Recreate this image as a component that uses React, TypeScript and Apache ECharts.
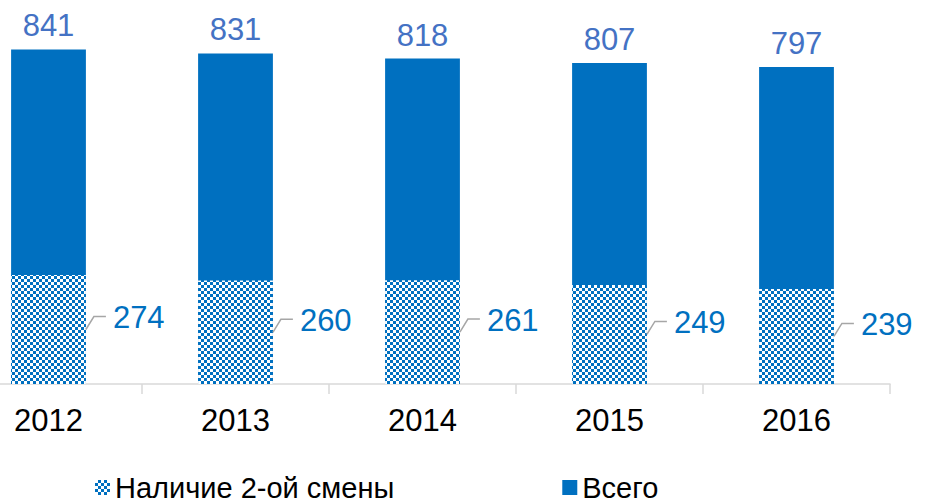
import React, { useEffect, useRef } from "react";
import * as echarts from "echarts";

const years = ["2012", "2013", "2014", "2015", "2016"];
const totalValues = [841, 831, 818, 807, 797];
const secondShiftValues = [274, 260, 261, 249, 239];
const seriesNames = ["Наличие 2-ой смены", "Всего"];

const BLUE = "#0070C0";

function makePattern(): string {
  const c = document.createElement("canvas");
  c.width = 6;
  c.height = 6;
  const ctx = c.getContext("2d")!;
  ctx.fillStyle = BLUE;
  ctx.fillRect(0, 0, 6, 6);
  ctx.fillStyle = "#ffffff";
  ctx.fillRect(0, 0, 3, 3);
  ctx.fillRect(3, 3, 3, 3);
  return c.toDataURL();
}

const SHIFT = 45;

export default function App() {
  const ref = useRef<HTMLDivElement>(null);
  useEffect(() => {
    if (!ref.current) return;
    const chart = echarts.init(ref.current, undefined, { renderer: "svg" });
    const pattern = { image: makePattern(), repeat: "repeat" } as any;
    const font = "Arial, 'Liberation Sans', sans-serif";
    chart.setOption({
      animation: false,
      textStyle: { fontFamily: font },
      grid: { left: 0, right: 44, top: 26, bottom: 118, containLabel: false },
      legend: {
        data: seriesNames,
        top: 473,
        left: 95 + SHIFT,
        padding: 0,
        itemWidth: 15,
        itemHeight: 15,
        itemGap: 168,
        icon: "rect",
        textStyle: { fontSize: 29, color: "#000", fontFamily: font },
      },
      xAxis: {
        type: "category",
        data: years,
        boundaryGap: true,
        axisLine: { lineStyle: { color: "#D9D9D9", width: 1.5 } },
        axisTick: { show: true, length: 10, lineStyle: { color: "#D9D9D9", width: 1.5 } },
        axisLabel: { fontSize: 31, color: "#000", margin: 21, fontFamily: font },
      },
      yAxis: {
        type: "value",
        min: 0,
        max: 900,
        show: false,
        splitLine: { show: false },
      },
      series: [
        {
          name: seriesNames[1],
          type: "bar",
          data: totalValues,
          barWidth: "40%",
          barGap: "-100%",
          itemStyle: { color: BLUE },
          label: {
            show: true,
            position: "top",
            distance: 8,
            fontSize: 31,
            color: "#4472C4",
            fontFamily: font,
          },
          z: 1,
        },
        {
          name: seriesNames[0],
          type: "bar",
          data: secondShiftValues,
          barWidth: "40%",
          barGap: "-100%",
          itemStyle: { color: pattern },
          z: 2,
        },
        {
          type: "custom",
          name: "labels",
          data: secondShiftValues.map((v, i) => [i, v]),
          z: 3,
          renderItem: (params: any, api: any) => {
            const i = api.value(0);
            const v = api.value(1);
            const top = api.coord([i, v]);
            const base = api.coord([i, 0]);
            const bw = api.size([1, 0])[0] * 0.4;
            const xr = top[0] + bw / 2;
            const ym = (top[1] + base[1]) / 2;
            const yl = ym - 13;
            return {
              type: "group",
              children: [
                {
                  type: "polyline",
                  shape: { points: [[xr, ym], [xr + 8, yl], [xr + 20, yl]] },
                  style: { stroke: "#A6A6A6", lineWidth: 1.5, fill: "none" },
                },
                {
                  type: "text",
                  style: {
                    x: xr + 27,
                    y: yl + 1,
                    text: String(v),
                    fontSize: 31,
                    fill: BLUE,
                    fontFamily: font,
                    align: "left",
                    verticalAlign: "middle",
                  },
                },
              ],
            };
          },
        },
      ],
    });
    return () => chart.dispose();
  }, []);
  return (
    <div style={{ position: "absolute", left: 0, top: 0, width: 934, height: 502, overflow: "hidden" }}>
      <div ref={ref} style={{ width: 934 + SHIFT, height: 502, position: "absolute", left: -SHIFT, top: 0 }} />
    </div>
  );
}
